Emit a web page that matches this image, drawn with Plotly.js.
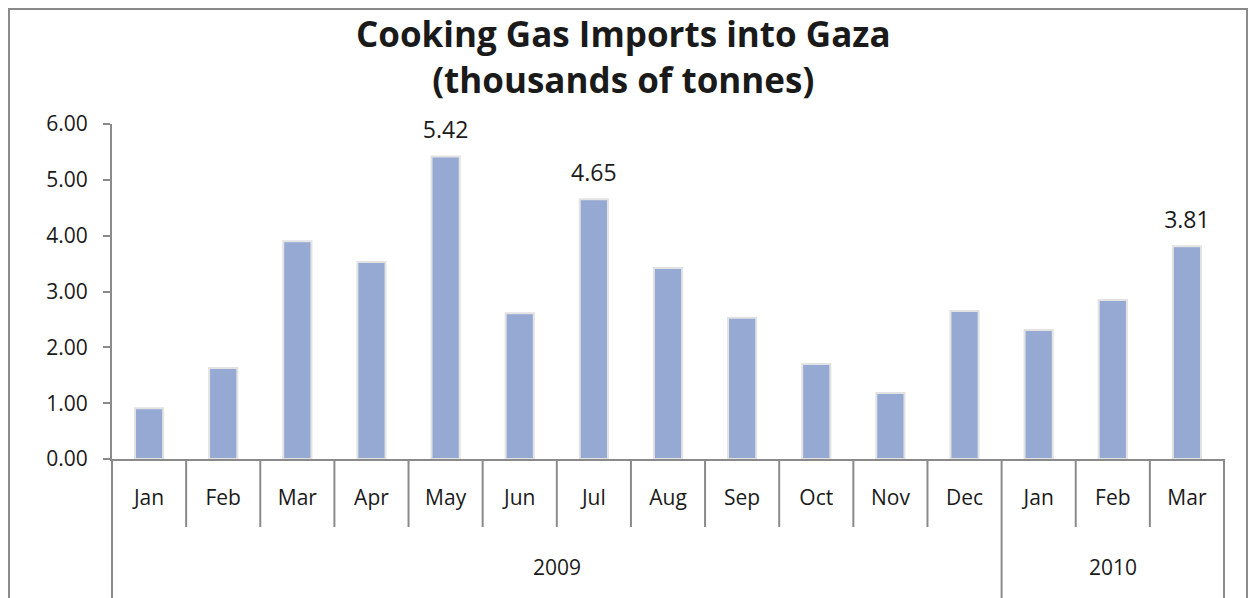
<!DOCTYPE html>
<html>
<head>
<meta charset="utf-8">
<script src="https://cdn.plot.ly/plotly-3.0.1.min.js"></script>
<style>
  html, body { margin: 0; padding: 0; background: #fff; }
  #chart { width: 1249px; height: 598px; }
  #frame { position: absolute; left: 8px; top: 8px; width: 1236px; height: 600px;
           border: 2px solid #8a8a8a; pointer-events: none; }
</style>
</head>
<body>
<div id="chart"></div>
<div id="frame"></div>
<script>
const years  = ["2009","2009","2009","2009","2009","2009","2009","2009","2009","2009","2009","2009","2010","2010","2010"];
const months = ["Jan","Feb","Mar","Apr","May","Jun","Jul","Aug","Sep","Oct","Nov","Dec","Jan","Feb","Mar"];
const imports = [0.91, 1.63, 3.90, 3.53, 5.42, 2.61, 4.65, 3.42, 2.53, 1.70, 1.18, 2.65, 2.31, 2.85, 3.81];
const labelled = [false,false,false,false,true,false,true,false,false,false,false,false,false,false,true];
const yTicks = [0,1,2,3,4,5,6];
const titleLines = ["Cooking Gas Imports into Gaza", "(thousands of tonnes)"];

const FONT = "'Open Sans', Lato, sans-serif";
const AXIS_COLOR = "#8a8a8a";
const TEXT_COLOR = "#1a1a1a";

const n = months.length;
const cats = months.map((m, i) => m + " " + years[i]);

// plot geometry (px) used to express divider lengths in paper units
const W = 1249, H = 598, ML = 112, MR = 25, MT = 124, MB = 139;
const plotW = W - ML - MR;
const plotH = H - MT - MB;
const monthDivLen = 68 / plotH;
const yearDivLen = (MB + 5) / plotH;
const yearLabelY = -108 / plotH;

const bars = {
  type: "bar",
  x: cats,
  y: imports,
  marker: { color: "#95a9d3", line: { color: "#e2e2e2", width: 2 } },
  hoverinfo: "y"
};

const lblIdx = imports.map((v, i) => i).filter(i => labelled[i]);
const labels = {
  type: "scatter",
  mode: "markers+text",
  x: lblIdx.map(i => cats[i]),
  y: lblIdx.map(i => imports[i]),
  text: lblIdx.map(i => imports[i].toFixed(2)),
  textposition: "top center",
  textfont: { family: FONT, size: 23, color: TEXT_COLOR },
  marker: { size: 18, color: "rgba(0,0,0,0)" },
  cliponaxis: false,
  hoverinfo: "skip"
};

// axis group dividers
const shapes = [];
const toPaper = b => (b + 0.5) / n;
for (let i = 0; i < n - 1; i++) {
  if (years[i] === years[i + 1]) {
    shapes.push({ type: "line", xref: "paper", yref: "paper",
      x0: toPaper(i + 0.5), x1: toPaper(i + 0.5), y0: 0, y1: -monthDivLen,
      line: { color: AXIS_COLOR, width: 2 } });
  }
}
const groups = [];
years.forEach((y, i) => {
  if (!groups.length || groups[groups.length - 1].year !== y) groups.push({ year: y, start: i, end: i });
  else groups[groups.length - 1].end = i;
});
const bounds = [-0.5].concat(groups.map(g => g.end + 0.5));
bounds.forEach(b => {
  shapes.push({ type: "line", xref: "paper", yref: "paper",
    x0: toPaper(b), x1: toPaper(b), y0: 0, y1: -yearDivLen,
    line: { color: AXIS_COLOR, width: 2 } });
});
const annotations = groups.map(g => ({
  xref: "x", yref: "paper",
  x: (g.start + g.end) / 2, y: yearLabelY,
  text: g.year, showarrow: false, xanchor: "center", yanchor: "middle",
  font: { family: FONT, size: 21, color: TEXT_COLOR }
}));

const layout = {
  width: W, height: H,
  margin: { l: ML, r: MR, t: MT, b: MB },
  paper_bgcolor: "#ffffff",
  plot_bgcolor: "#ffffff",
  bargap: 0.62,
  showlegend: false,
  title: {
    text: "<b>" + titleLines.join("<br>") + "</b>",
    font: { family: FONT, size: 35, color: TEXT_COLOR },
    x: 0.499, xanchor: "center",
    yref: "container", y: 1 - 47 / H, yanchor: "middle"
  },
  xaxis: {
    type: "category",
    range: [-0.5, n - 0.5],
    tickvals: cats, ticktext: months,
    showline: true, linecolor: AXIS_COLOR, linewidth: 2,
    ticks: "", ticklabelstandoff: 19,
    tickfont: { family: FONT, size: 21, color: TEXT_COLOR },
    showgrid: false, zeroline: false
  },
  yaxis: {
    range: [0, 6],
    tickvals: yTicks,
    tickformat: ".2f",
    showline: true, linecolor: AXIS_COLOR, linewidth: 2,
    ticks: "outside", ticklen: 7, tickcolor: AXIS_COLOR, tickwidth: 2,
    ticklabelstandoff: 11,
    tickfont: { family: FONT, size: 21, color: TEXT_COLOR },
    showgrid: false, zeroline: false
  },
  shapes: shapes,
  annotations: annotations
};

Plotly.newPlot("chart", [bars, labels], layout, { displayModeBar: false, staticPlot: true });
</script>
</body>
</html>
